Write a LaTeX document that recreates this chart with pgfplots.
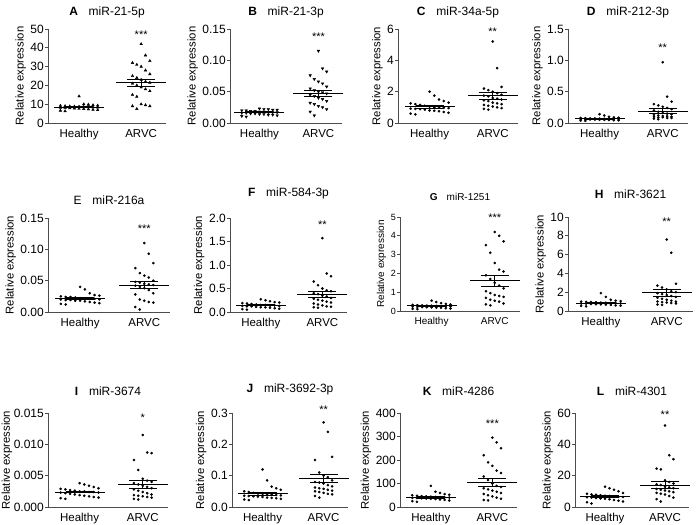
\documentclass[border=0pt]{standalone}
\usepackage{fontspec}
\setmainfont{Liberation Sans}
\usepackage{pgfplots}
\usepackage{pgfplotstable}
\pgfplotsset{compat=1.18}

% relative expression, Healthy (h) and ARVC (a)
\pgfplotstableread{
h a
14.2 42
10.0 36
9.8 33
9.5 32
9.3 31
9.2 30
9.0 28
8.9 26
8.8 25
8.7 24
8.6 23
8.5 22
8.4 21.5
8.3 21
8.2 20
8.0 19
7.9 18
7.8 17
7.6 15
7.5 14
7.3 10
7.1 9.5
6.9 9
6.6 9
6.3 7.5
}\tA
\pgfplotstableread{
h a
0.023 0.115
0.022 0.087
0.022 0.082
0.021 0.076
0.021 0.070
0.020 0.066
0.020 0.063
0.019 0.058
0.019 0.055
0.018 0.052
0.018 0.050
0.017 0.049
0.017 0.047
0.017 0.045
0.016 0.043
0.016 0.040
0.015 0.038
0.015 0.035
0.014 0.032
0.014 0.030
0.013 0.027
0.013 0.025
0.012 0.022
0.011 0.018
0.010 0.012
}\tB
\pgfplotstableread{
h a
2.00 5.2
1.75 3.5
1.50 2.3
1.40 2.2
1.30 2.1
1.25 2.0
1.20 1.9
1.15 1.8
1.10 1.75
1.05 1.7
1.00 1.6
1.00 1.55
0.98 1.5
0.95 1.45
0.92 1.4
0.90 1.3
0.88 1.25
0.85 1.2
0.80 1.15
0.78 1.1
0.75 1.05
0.70 1.0
0.65 0.95
0.60 0.9
0.55 0.85
}\tC
\pgfplotstableread{
h a
0.140 0.97
0.120 0.42
0.100 0.34
0.090 0.30
0.085 0.28
0.080 0.26
0.078 0.24
0.075 0.22
0.072 0.20
0.070 0.18
0.068 0.16
0.066 0.15
0.064 0.14
0.062 0.13
0.060 0.12
0.058 0.11
0.056 0.11
0.054 0.10
0.052 0.10
0.050 0.09
0.048 0.09
0.045 0.08
0.042 0.08
0.038 0.07
0.035 0.06
}\tD
\pgfplotstableread{
h a
0.040 0.110
0.036 0.093
0.030 0.078
0.027 0.070
0.026 0.062
0.025 0.058
0.024 0.055
0.024 0.050
0.023 0.048
0.022 0.047
0.022 0.045
0.021 0.044
0.021 0.043
0.020 0.042
0.020 0.040
0.019 0.038
0.019 0.035
0.018 0.030
0.018 0.028
0.017 0.020
0.016 0.018
0.015 0.016
0.014 0.015
0.013 0.008
0.012 0.004
}\tE
\pgfplotstableread{
h a
0.27 1.57
0.25 0.82
0.23 0.76
0.21 0.65
0.20 0.57
0.19 0.50
0.18 0.46
0.17 0.44
0.16 0.40
0.15 0.38
0.15 0.35
0.14 0.33
0.14 0.30
0.13 0.28
0.13 0.26
0.12 0.24
0.12 0.22
0.11 0.20
0.10 0.18
0.10 0.16
0.09 0.14
0.08 0.12
0.07 0.11
0.06 0.10
0.05 0.09
}\tF
\pgfplotstableread{
h a
0.55 4.2
0.48 4.0
0.42 3.7
0.38 3.5
0.35 3.1
0.33 2.55
0.31 2.2
0.30 2.1
0.29 1.9
0.28 1.7
0.27 1.5
0.26 1.35
0.25 1.2
0.24 1.05
0.23 0.95
0.22 0.85
0.21 0.8
0.20 0.75
0.19 0.7
0.18 0.6
0.17 0.55
0.15 0.5
0.13 0.4
0.11 0.35
0.10 0.3
}\tG
\pgfplotstableread{
h a
1.90 7.6
1.50 6.2
1.20 2.9
1.10 2.7
1.05 2.5
1.00 2.3
0.98 2.1
0.95 2.0
0.92 1.9
0.90 1.8
0.88 1.7
0.86 1.6
0.84 1.5
0.82 1.4
0.80 1.3
0.78 1.2
0.75 1.1
0.72 1.0
0.70 1.0
0.68 0.95
0.65 0.9
0.60 0.85
0.58 0.8
0.55 0.7
0.50 0.65
}\tH
\pgfplotstableread{
h a
0.0038 0.0115
0.0036 0.0087
0.0034 0.0086
0.0032 0.0075
0.0030 0.0059
0.0029 0.0045
0.0028 0.0042
0.0027 0.0040
0.0026 0.0038
0.0025 0.0036
0.0025 0.0034
0.0024 0.0032
0.0024 0.0030
0.0023 0.0028
0.0023 0.0026
0.0022 0.0024
0.0021 0.0022
0.0020 0.0020
0.0019 0.0019
0.0018 0.0018
0.0017 0.0017
0.0016 0.0016
0.0015 0.0015
0.0014 0.0013
0.0013 0.0012
}\tI
\pgfplotstableread{
h a
0.120 0.27
0.085 0.24
0.065 0.16
0.060 0.15
0.055 0.11
0.050 0.10
0.048 0.095
0.045 0.085
0.043 0.080
0.042 0.078
0.040 0.075
0.039 0.070
0.038 0.066
0.037 0.062
0.036 0.060
0.035 0.058
0.034 0.055
0.033 0.052
0.032 0.050
0.030 0.048
0.029 0.045
0.028 0.042
0.026 0.040
0.024 0.035
0.022 0.030
}\tJ
\pgfplotstableread{
h a
90 295
65 275
60 250
55 220
52 190
50 175
48 155
46 145
45 130
44 115
43 100
42 90
41 85
40 80
39 75
38 70
37 65
36 60
35 55
34 50
32 45
30 40
28 35
25 30
22 28
}\tK
\pgfplotstableread{
h a
13 52
12 33
11 30.5
10 24.5
9 24
8.5 17
8 16
7.8 15
7.5 14.5
7.2 14
7 13
6.8 12.5
6.6 12
6.4 11.5
6.2 11
6 10.5
5.8 10
5.5 9.5
5.2 9
5 8.5
4.5 8
4 7
3.5 6
3 5
2.2 3.5
}\tL

\pgfplotsset{
  panel/.style={
    scale only axis, anchor=south west, height=94pt,
    axis x line*=bottom, axis y line*=left,
    axis line style={black!70, line width=0.9pt},
    xmin=0.5, xmax=2.4, ymin=0,
    xtick={1,2}, xticklabels={Healthy,ARVC},
    x tick style={draw=none},
    y tick style={black!70, line width=0.9pt},
    tick align=outside, major tick length=3pt,
    scaled y ticks=false,
    /pgf/number format/assume math mode=true,
    ylabel={Relative expression},
    clip=false,
    tick label style={font=\fontsize{12}{14}\selectfont},
    y tick label style={inner xsep=1pt},
    x tick label style={font=\fontsize{11.5}{13}\selectfont},
    label style={font=\fontsize{11.3}{13}\selectfont},
    title style={font=\fontsize{12}{14}\selectfont, yshift=1pt},
  },
  pts/.style={only marks, mark=*, mark size=1.1pt, black},
  tri/.style={only marks, mark=triangle*, mark size=1.5pt, black},
  msem/.style={only marks, black, mark=-, mark size=25pt,
    mark options={line width=0.9pt},
    error bars/.cd, y dir=both, y explicit,
    error mark=|,
    error bar style={line width=0.9pt, black},
    error mark options={line width=0.9pt, mark size=14pt, black}},
  table/hj/.style={x expr={1+0.075*(mod(\coordindex+4,9)-4)}, y=h},
  table/aj/.style={x expr={2+0.07*(mod(\coordindex+2,5)-2)}, y=a},
}
\newcommand{\stars}[2]{\node[font=\fontsize{11}{12}\selectfont] at (axis cs:2,#1) {#2};}

\begin{document}
\begin{tikzpicture}
\path[use as bounding box] (0,0) rectangle (700pt,524pt);

% ---- row 1
\begin{axis}[panel, at={(48pt,401pt)}, width=118pt, ymax=50,
  ytick={0,10,20,30,40,50}, title={\textbf{A}\hspace{0.9em}miR-21-5p}]
\addplot[tri] table[hj] {\tA};
\addplot[tri] table[aj] {\tA};
\addplot[msem] coordinates {(1,8.5) +- (0,0.35) (2,21.4) +- (0,1.8)};
\stars{47}{***}
\end{axis}

\begin{axis}[panel, at={(230pt,401pt)}, width=112pt, ymax=0.15,
  ytick={0,0.05,0.10,0.15}, yticklabels={0.00,0.05,0.10,0.15},
  title={\textbf{B}\hspace{0.9em}miR-21-3p}]
\addplot[tri, mark options={rotate=180}] table[hj] {\tB};
\addplot[tri, mark options={rotate=180}] table[aj] {\tB};
\addplot[msem] coordinates {(1,0.017) +- (0,0.0007) (2,0.047) +- (0,0.005)};
\stars{0.137}{***}
\end{axis}

\begin{axis}[panel, at={(398pt,401pt)}, width=120pt, ymax=6,
  ytick={0,2,4,6}, title={\textbf{C}\hspace{0.9em}miR-34a-5p}]
\addplot[pts] table[hj] {\tC};
\addplot[pts] table[aj] {\tC};
\addplot[msem] coordinates {(1,1.03) +- (0,0.07) (2,1.73) +- (0,0.2)};
\stars{5.85}{**}
\end{axis}

\begin{axis}[panel, at={(568pt,401pt)}, width=120pt, ymax=1.5,
  ytick={0,0.5,1.0,1.5}, yticklabels={0.0,0.5,1.0,1.5},
  title={\textbf{D}\hspace{0.9em}miR-212-3p}]
\addplot[pts] table[hj] {\tD};
\addplot[pts] table[aj] {\tD};
\addplot[msem] coordinates {(1,0.065) +- (0,0.005) (2,0.19) +- (0,0.04)};
\stars{1.2}{**}
\end{axis}

% ---- row 2
\begin{axis}[panel, at={(48pt,212pt)}, width=122pt, ymax=0.15,
  ytick={0,0.05,0.10,0.15}, yticklabels={0.00,0.05,0.10,0.15},
  title={E\hspace{0.9em}miR-216a}, title style={yshift=3pt}]
\addplot[pts] table[hj] {\tE};
\addplot[pts] table[aj] {\tE};
\addplot[msem] coordinates {(1,0.0214) +- (0,0.0012) (2,0.043) +- (0,0.005)};
\stars{0.133}{***}
\end{axis}

\begin{axis}[panel, at={(230pt,212pt)}, width=117pt, ymax=2,
  ytick={0,0.5,1.0,1.5,2.0}, yticklabels={0.0,0.5,1.0,1.5,2.0},
  title={\textbf{F}\hspace{0.9em}miR-584-3p}, title style={yshift=8pt}]
\addplot[pts] table[hj] {\tF};
\addplot[pts] table[aj] {\tF};
\addplot[msem] coordinates {(1,0.143) +- (0,0.012) (2,0.365) +- (0,0.065)};
\stars{1.86}{**}
\end{axis}

\begin{axis}[panel, at={(400pt,213pt)}, width=120pt, ymax=5,
  ytick={0,1,2,3,4,5}, title={\textbf{G}\hspace{0.9em}miR-1251},
  tick label style={font=\fontsize{9}{11}\selectfont},
  x tick label style={font=\fontsize{10}{12}\selectfont},
  label style={font=\fontsize{10}{12}\selectfont},
  title style={font=\fontsize{10}{12}\selectfont, yshift=6pt}]
\addplot[pts] table[hj] {\tG};
\addplot[pts] table[aj] {\tG};
\addplot[msem] coordinates {(1,0.27) +- (0,0.02) (2,1.6) +- (0,0.28)};
\stars{4.95}{***}
\end{axis}

\begin{axis}[panel, at={(568pt,213pt)}, width=125pt, ymax=10,
  ytick={0,2,4,6,8,10}, title={\textbf{H}\hspace{0.9em}miR-3621},
  title style={yshift=8pt}]
\addplot[pts] table[hj] {\tH};
\addplot[pts] table[aj] {\tH};
\addplot[msem] coordinates {(1,0.85) +- (0,0.06) (2,1.95) +- (0,0.35)};
\stars{9.5}{**}
\end{axis}

% ---- row 3
\begin{axis}[panel, at={(48pt,17pt)}, width=120pt, ymax=0.015,
  ytick={0,0.005,0.010,0.015}, yticklabels={0.000,0.005,0.010,0.015},
  ylabel shift=-3pt,
  title={\textbf{I}\hspace{0.9em}miR-3674}, title style={yshift=7pt}]
\addplot[pts] table[hj] {\tI};
\addplot[pts] table[aj] {\tI};
\addplot[msem] coordinates {(1,0.0024) +- (0,0.00013) (2,0.0036) +- (0,0.0006)};
\stars{0.0142}{*}
\end{axis}

\begin{axis}[panel, at={(232pt,17pt)}, width=116pt, ymax=0.3,
  ytick={0,0.1,0.2,0.3}, yticklabels={0.0,0.1,0.2,0.3},
  title={\textbf{J}\hspace{0.9em}miR-3692-3p}, title style={yshift=7pt}]
\addplot[pts] table[hj] {\tJ};
\addplot[pts] table[aj] {\tJ};
\addplot[msem] coordinates {(1,0.042) +- (0,0.004) (2,0.092) +- (0,0.013)};
\stars{0.31}{**}
\end{axis}

\begin{axis}[panel, at={(400pt,17pt)}, width=117pt, ymax=400,
  ytick={0,100,200,300,400}, title={\textbf{K}\hspace{0.9em}miR-4286},
  title style={yshift=7pt}]
\addplot[pts] table[hj] {\tK};
\addplot[pts] table[aj] {\tK};
\addplot[msem] coordinates {(1,41) +- (0,3) (2,103) +- (0,17)};
\stars{355}{***}
\end{axis}

\begin{axis}[panel, at={(575pt,17pt)}, width=114pt, ymax=60,
  ytick={0,20,40,60}, title={\textbf{L}\hspace{0.9em}miR-4301},
  title style={yshift=7pt}]
\addplot[pts] table[hj] {\tL};
\addplot[pts] table[aj] {\tL};
\addplot[msem] coordinates {(1,6.9) +- (0,0.5) (2,14) +- (0,2.4)};
\stars{59}{**}
\end{axis}
\end{tikzpicture}
\end{document}
